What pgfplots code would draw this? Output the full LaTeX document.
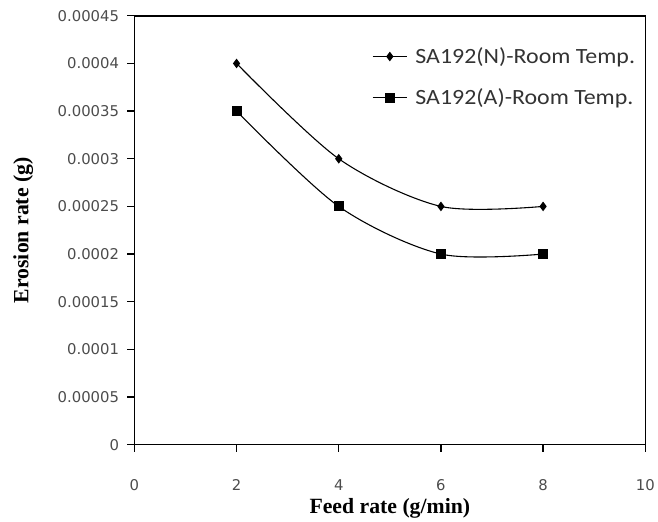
\documentclass[border=0pt]{standalone}
\usepackage{pgfplots}
\pgfplotsset{compat=1.18}
\usepackage{fontspec}
\setmainfont{Liberation Serif}
\newfontfamily\tickfont{DejaVu Sans}
\newfontfamily\legfont[FakeStretch=1.1]{Carlito}
\begin{document}
\begin{tikzpicture}
\begin{axis}[name=ax,
  scale only axis, width=517pt, height=434pt,
  xmin=0, xmax=10, ymin=0, ymax=0.00045,
  xtick={0,2,...,10},
  ytick={0,0.00005,...,0.00045},
  scaled y ticks=false,
  axis lines=box,
  tick align=outside, tick pos=left,
  major tick length=7pt,
  axis line style={line width=1.5pt, black},
  every tick/.style={black, line width=1.4pt},
  /pgf/number format/assume math mode=true,
  yticklabel style={/pgf/number format/fixed, /pgf/number format/precision=5, font=\tickfont\fontsize{15}{17}\selectfont, text=black!70, xshift=-5pt},
  xticklabel style={font=\tickfont\fontsize{15}{17}\selectfont, text=black!70, yshift=-25pt},
  xlabel={\bfseries Feed rate (g/min)},
  ylabel={\bfseries Erosion rate (g)},
  xlabel style={font=\fontsize{22}{24}\selectfont, yshift=-1pt},
  ylabel style={font=\fontsize{22}{24}\selectfont, yshift=18pt},
  legend style={draw=none, fill=none, at={(0.99,0.935)}, anchor=north east,
    font=\legfont\fontsize{22}{24}\selectfont, text=black!80, row sep=20pt},
  legend cell align=left,
  legend image code/.code={
    \draw[#1, line width=1pt] (0cm,0cm) -- (1.2cm,0cm);
    \draw[#1, mark repeat=2, mark phase=2] plot coordinates {(0cm,0cm) (0.6cm,0cm) (1.2cm,0cm)};
    \path (1.42cm,0cm);
  },
]
\addplot[black, line width=1.1pt, smooth, mark=diamond*, mark size=4pt, mark options={solid, fill=black}]
  coordinates {(2,0.0004) (4,0.0003) (6,0.00025) (8,0.00025)};
\addlegendentry{SA192(N)-Room Temp.}
\addplot[black, line width=1.1pt, smooth, mark=square*, mark size=4.5pt, mark options={solid, fill=black}]
  coordinates {(2,0.00035) (4,0.00025) (6,0.0002) (8,0.0002)};
\addlegendentry{SA192(A)-Room Temp.}
\end{axis}
\path (ax.north west) ++(-136pt,16pt);
\path (ax.south east) ++(5pt,-70pt);
\end{tikzpicture}
\end{document}
